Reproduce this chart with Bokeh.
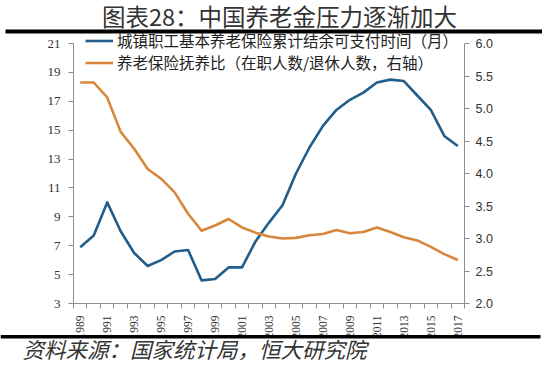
import math
from bokeh.plotting import figure
from bokeh.models import (Range1d, LinearAxis, FixedTicker, PrintfTickFormatter,
                          Legend, LegendItem, Label, BoxAnnotation)
from bokeh.embed import file_html
from bokeh.resources import INLINE

# ---------------- data ----------------
years = list(range(1989, 2018))
months_payable = [6.9, 7.7, 10.0, 8.0, 6.5, 5.6, 6.0, 6.6, 6.7, 4.6, 4.7, 5.5, 5.5, 7.3,
                  8.6, 9.8, 12.0, 13.8, 15.3, 16.4, 17.1, 17.6, 18.3, 18.5, 18.4, 17.4,
                  16.4, 14.6, 13.9]
dependency_ratio = [5.40, 5.40, 5.17, 4.64, 4.38, 4.07, 3.92, 3.71, 3.38, 3.12, 3.20, 3.30,
                    3.17, 3.09, 3.03, 3.00, 3.01, 3.05, 3.07, 3.13, 3.08, 3.10, 3.17, 3.10,
                    3.02, 2.97, 2.87, 2.76, 2.67]
left_ticks = [3, 5, 7, 9, 11, 13, 15, 17, 19, 21]
right_ticks = [2.0, 2.5, 3.0, 3.5, 4.0, 4.5, 5.0, 5.5, 6.0]
year_ticks = years[::2]
year_bounds = [y - 0.5 for y in years] + [years[-1] + 0.5]

title_text = "图表28：中国养老金压力逐渐加大"
source_text = "资料来源：国家统计局，恒大研究院"
label_blue = "城镇职工基本养老保险累计结余可支付时间（月）"
label_orange = "养老保险抚养比（在职人数/退休人数，右轴）"

BLUE = "#215E8B"
ORANGE = "#D9863D"
AXIS = "#8f8f8f"

# ---------------- layout (pixels) ----------------
W, H = 542, 364
PL, PR, PT, PB = 73, 464, 43, 303          # plot area edges on the canvas
XA, XB = years[0] - 0.5, years[-1] + 0.5   # category span
LA, LB = left_ticks[0], left_ticks[-1]
RA, RB = right_ticks[0], right_ticks[-1]

sx = (PR - PL) / (XB - XA)
sl = (PB - PT) / (LB - LA)
sr = (PB - PT) / (RB - RA)
x_range = Range1d(XA - PL / sx, XB + (W - PR) / sx)
y_range = Range1d(LA - (H - PB) / sl, LB + PT / sl)
r_range = Range1d(RA - (H - PB) / sr, RB + PT / sr)


def cx(px):
    return x_range.start + px / sx


def cy(py):
    return y_range.end - py / sl


p = figure(width=W, height=H, output_backend="svg", toolbar_location=None,
           x_range=x_range, y_range=y_range, min_border=0,
           x_axis_location=None, y_axis_location=None, title=None)
p.outline_line_color = None
p.xgrid.visible = False
p.ygrid.visible = False
p.extra_y_ranges = {"r": r_range}

ax_l = LinearAxis(ticker=FixedTicker(ticks=left_ticks), bounds=(LA, LB), fixed_location=XA)
ax_l.axis_line_color = AXIS
ax_l.major_tick_line_color = AXIS
ax_l.major_tick_out = 5
ax_l.major_tick_in = 0
ax_l.minor_tick_line_color = None
ax_l.major_label_text_font = "Liberation Serif"
ax_l.major_label_text_font_size = "13px"
ax_l.major_label_text_color = "#333333"
ax_l.major_label_standoff = 8
p.add_layout(ax_l, "left")

ax_r = LinearAxis(y_range_name="r", ticker=FixedTicker(ticks=right_ticks),
                  formatter=PrintfTickFormatter(format="%.1f"), bounds=(RA, RB),
                  fixed_location=XB)
ax_r.axis_line_color = AXIS
ax_r.major_tick_line_color = AXIS
ax_r.major_tick_out = 5
ax_r.major_tick_in = 0
ax_r.minor_tick_line_color = None
ax_r.major_label_text_font = "Liberation Sans"
ax_r.major_label_text_font_size = "12.5px"
ax_r.major_label_text_color = "#333333"
ax_r.major_label_standoff = 6
p.add_layout(ax_r, "right")

ax_b = LinearAxis(ticker=FixedTicker(ticks=year_ticks, minor_ticks=year_bounds),
                  formatter=PrintfTickFormatter(format="%d"), bounds=(XA, XB),
                  fixed_location=LA)
ax_b.axis_line_color = AXIS
ax_b.major_tick_out = 0
ax_b.major_tick_in = 0
ax_b.minor_tick_line_color = AXIS
ax_b.minor_tick_out = 5
ax_b.minor_tick_in = 0
ax_b.major_label_orientation = math.pi / 2
ax_b.major_label_text_font = "Liberation Serif"
ax_b.major_label_text_font_size = "11.5px"
ax_b.major_label_text_color = "#333333"
ax_b.major_label_standoff = 7
p.add_layout(ax_b, "below")

r_blue = p.line(years, months_payable, line_color=BLUE, line_width=2.6, line_join="round")
r_orange = p.line(years, dependency_ratio, line_color=ORANGE, line_width=2.6,
                  line_join="round", y_range_name="r")

legend = Legend(items=[LegendItem(label=label_blue, renderers=[r_blue]),
                       LegendItem(label=label_orange, renderers=[r_orange])],
                location=(12 + PL, 291), orientation="vertical")
legend.padding = 0
legend.margin = 0
legend.spacing = 0
legend.glyph_width = 28
legend.glyph_height = 19
legend.label_height = 19
legend.label_standoff = 4
legend.label_text_font = "Noto Sans CJK SC"
legend.label_text_font_size = "15.5px"
legend.label_text_color = "#222222"
legend.label_text_baseline = "middle"
legend.border_line_alpha = 0
legend.background_fill_alpha = 0
p.add_layout(legend, "center")

# title, rules and source
p.add_layout(Label(x=cx(279), y=cy(15.5), text=title_text, text_align="center",
                   text_baseline="middle", text_font="Noto Sans CJK SC",
                   text_font_size="23.5px", text_color="#333333"))
p.add_layout(BoxAnnotation(left=cx(5), right=cx(545), top=cy(29), bottom=cy(33),
                           fill_color="black", fill_alpha=1, line_color=None))
p.add_layout(BoxAnnotation(left=cx(0), right=cx(540), top=cy(334.5), bottom=cy(338),
                           fill_color="black", fill_alpha=1, line_color=None))
p.add_layout(Label(x=cx(22), y=cy(348), text=source_text, text_align="left",
                   text_baseline="middle", text_font="Noto Sans CJK SC",
                   text_font_size="21.5px", text_font_style="italic",
                   text_color="#333333"))

open("out.html", "w").write(file_html(p, INLINE))
